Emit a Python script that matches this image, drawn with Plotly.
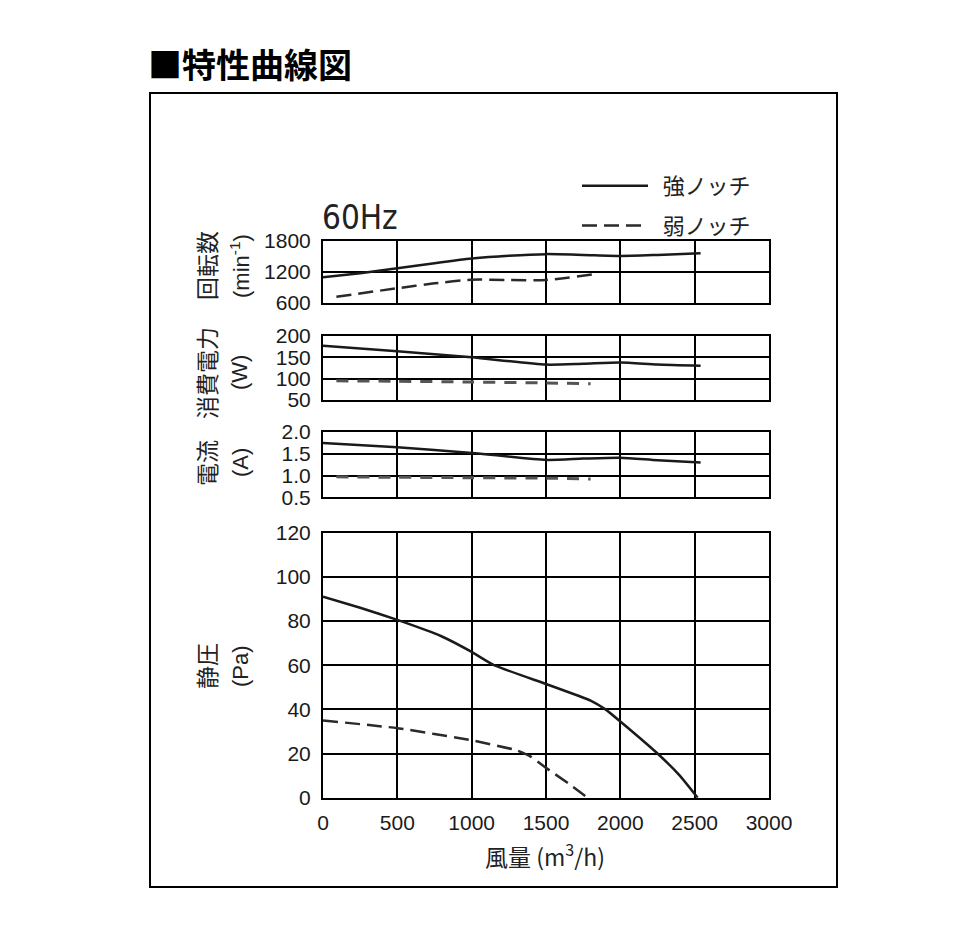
import plotly.graph_objects as go

# ---------- data ----------
# 回転数 (min-1)
rpm_x_strong = [0, 250, 500, 750, 1000, 1250, 1500, 1750, 2000, 2250, 2540]
rpm_strong = [1090, 1170, 1265, 1365, 1455, 1510, 1540, 1525, 1505, 1525, 1555]
rpm_x_weak = [90, 500, 750, 1000, 1250, 1500, 1820]
rpm_weak = [715, 880, 975, 1045, 1040, 1040, 1150]

# 消費電力 (W)
pw_x_strong = [0, 500, 1000, 1500, 1750, 2000, 2250, 2540]
pw_strong = [177, 164, 150, 133, 135, 138, 133, 130]
pw_x_weak = [90, 500, 1000, 1500, 1800]
pw_weak = [95, 94, 92, 90, 88]

# 電流 (A)
cur_x_strong = [0, 500, 1000, 1500, 1750, 2000, 2250, 2540]
cur_strong = [1.75, 1.65, 1.52, 1.36, 1.39, 1.41, 1.35, 1.30]
cur_x_weak = [90, 500, 1000, 1500, 1800]
cur_weak = [0.97, 0.96, 0.95, 0.94, 0.92]

# 静圧 (Pa)
sp_x_strong = [0, 250, 500, 800, 1000, 1150, 1500, 1800, 1900, 2000, 2250, 2400, 2520]
sp_strong = [91, 86, 80.5, 73, 66, 60, 51.5, 44, 40, 34.5, 20, 10, 0]
sp_x_weak = [0, 500, 1000, 1300, 1400, 1500, 1650, 1780]
sp_weak = [35, 31.5, 26, 21.5, 18.5, 13.5, 6.5, 0]

# figure a bit smaller than the window so the page body margin (8px) fits
OFF = 8
W, H = 959 - 2 * OFF, 944 - 2 * OFF
def px(x):
    return (x - OFF) / W
def py(y):
    return 1 - (y - OFF) / H

JP = "Noto Sans CJK JP"
NUM = "Liberation Sans, Arial, sans-serif"
NARROW = "Liberation Sans Narrow, DejaVu Sans Condensed, Liberation Sans, sans-serif"

fig = go.Figure()

solid = dict(color="#1a1a1a", width=2.5)
dashed = dict(color="#2a2a2a", width=2.5, dash="15px,7px")
dashed_gray = dict(color="#555555", width=3, dash="12px,9px")

# 静圧 panel (main, with legend)
fig.add_trace(go.Scatter(x=sp_x_strong, y=sp_strong, mode="lines", name="\u00a0\u00a0強ノッチ",
                         legendgroup="a", line=dict(shape="spline", smoothing=0.4, **solid),
                         xaxis="x", yaxis="y"))
fig.add_trace(go.Scatter(x=sp_x_weak, y=sp_weak, mode="lines", name="\u00a0\u00a0弱ノッチ",
                         legendgroup="b", line=dict(shape="spline", smoothing=0.4, **dashed),
                         xaxis="x", yaxis="y"))
# 電流
fig.add_trace(go.Scatter(x=cur_x_strong, y=cur_strong, mode="lines", showlegend=False,
                         line=dict(shape="spline", smoothing=0.6, **solid), xaxis="x2", yaxis="y2"))
fig.add_trace(go.Scatter(x=cur_x_weak, y=cur_weak, mode="lines", showlegend=False,
                         line=dict(shape="spline", smoothing=0.6, **dashed_gray), xaxis="x2", yaxis="y2"))
# 消費電力
fig.add_trace(go.Scatter(x=pw_x_strong, y=pw_strong, mode="lines", showlegend=False,
                         line=dict(shape="spline", smoothing=0.6, **solid), xaxis="x3", yaxis="y3"))
fig.add_trace(go.Scatter(x=pw_x_weak, y=pw_weak, mode="lines", showlegend=False,
                         line=dict(shape="spline", smoothing=0.6, **dashed_gray), xaxis="x3", yaxis="y3"))
# 回転数
fig.add_trace(go.Scatter(x=rpm_x_strong, y=rpm_strong, mode="lines", showlegend=False,
                         line=dict(shape="spline", smoothing=0.6, **solid), xaxis="x4", yaxis="y4"))
fig.add_trace(go.Scatter(x=rpm_x_weak, y=rpm_weak, mode="lines", showlegend=False,
                         line=dict(shape="spline", smoothing=0.6, **dashed), xaxis="x4", yaxis="y4"))

tickfont = dict(family=NUM, size=21, color="#1a1a1a")
xdom = [px(323), px(769)]
common_x = dict(range=[0, 3000], dtick=500, showgrid=True, gridcolor="black", gridwidth=2,
                showline=True, linecolor="black", linewidth=2, mirror=True, zeroline=False,
                ticks="", domain=xdom, fixedrange=True, automargin=False)
common_y = dict(showgrid=True, gridcolor="black", gridwidth=2, showline=True, linecolor="black",
                linewidth=2, mirror=True, zeroline=False, ticks="", ticklabelstandoff=6,
                tickfont=tickfont, fixedrange=True, automargin=False)

fig.update_layout(
    width=W, height=H,
    margin=dict(l=0, r=0, t=0, b=0, pad=0, autoexpand=False),
    paper_bgcolor="white", plot_bgcolor="white",
    xaxis=dict(common_x, anchor="y", tickfont=tickfont, ticklabelstandoff=5,
               tickvals=[0, 500, 1000, 1500, 2000, 2500, 3000]),
    yaxis=dict(common_y, range=[0, 120], dtick=20, domain=[py(797.7), py(532.7)], anchor="x"),
    xaxis2=dict(common_x, anchor="y2", showticklabels=False),
    yaxis2=dict(common_y, range=[0.5, 2.0], dtick=0.5, tickformat=".1f",
                domain=[py(497.3), py(432)], anchor="x2"),
    xaxis3=dict(common_x, anchor="y3", showticklabels=False),
    yaxis3=dict(common_y, range=[50, 200], dtick=50, domain=[py(400), py(336)], anchor="x3"),
    xaxis4=dict(common_x, anchor="y4", showticklabels=False),
    yaxis4=dict(common_y, range=[600, 1800], dtick=600, domain=[py(302.7), py(240.7)], anchor="x4"),
    showlegend=True,
    legend=dict(x=px(577), y=py(165), xanchor="left", yanchor="top", bgcolor="rgba(0,0,0,0)",
                font=dict(family=JP, size=22, color="#222"), itemwidth=66,
                tracegroupgap=8),
)

# outer frame
fig.add_shape(type="rect", xref="paper", yref="paper", x0=px(150), x1=px(837),
              y0=py(887), y1=py(93), line=dict(color="black", width=2))

ann = []
# title
ann.append(dict(text="<b>■特性曲線図</b>", x=px(146), y=py(64), xanchor="left", yanchor="middle",
                font=dict(family=JP, size=34, color="black")))
ann.append(dict(text="60Hz", x=px(320), y=py(217), xanchor="left", yanchor="middle",
                font=dict(family=NARROW, size=33, color="#222")))
# axis titles (rotated)
ytitles = [
    ("回転数", "(min<sup>-1</sup>)", 266),
    ("消費電力", "(W)", 373),
    ("電流", "(A)", 463),
    ("静圧", "(Pa)", 666),
]
for jp, unit, yc in ytitles:
    ann.append(dict(text=jp, x=px(206), y=py(yc), textangle=-90, xanchor="center", yanchor="middle",
                    font=dict(family=JP, size=23, color="#222")))
    ann.append(dict(text=unit, x=px(240), y=py(yc), textangle=-90, xanchor="center", yanchor="middle",
                    font=dict(family=NUM, size=22, color="#222")))
ann.append(dict(text="風量 (m<sup>3</sup>/h)", x=px(545), y=py(855), xanchor="center", yanchor="middle",
                font=dict(family=JP, size=23, color="#222")))
for a in ann:
    a.update(xref="paper", yref="paper", showarrow=False)
fig.update_layout(annotations=ann)

fig.write_html("out.html")
